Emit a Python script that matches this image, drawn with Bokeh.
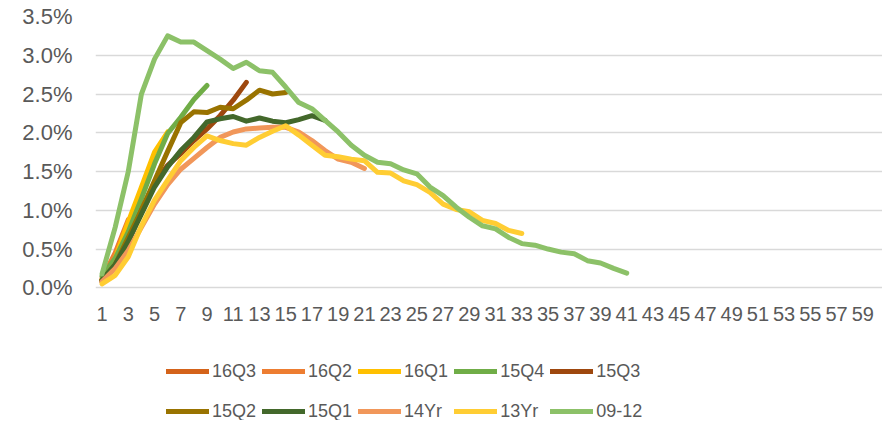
from bokeh.plotting import figure
from bokeh.models import Range1d, FixedTicker, PrintfTickFormatter, Legend, LegendItem
from bokeh.embed import file_html
from bokeh.resources import INLINE

# ---- data (values in %) ----
categories = list(range(1, 61))
x_tick_values = categories[::2]
x_tick_labels = [str(c) for c in x_tick_values]
y_ticks = [0.0, 0.5, 1.0, 1.5, 2.0, 2.5, 3.0, 3.5]

series_names = ["16Q3", "16Q2", "16Q1", "15Q4", "15Q3", "15Q2", "15Q1", "14Yr", "13Yr", "09-12"]
series_colors = ["#D4631A", "#ED7D31", "#FFC000", "#70AD47", "#9E480E",
                 "#997300", "#43682B", "#F1975A", "#FFCD33", "#8CC168"]

s16Q3 = [0.10, 0.35]
s16Q2 = [0.12, 0.45, 0.88]
s16Q1 = [0.10, 0.38, 0.85, 1.30, 1.75, 2.01]
s15Q4 = [0.15, 0.38, 0.72, 1.15, 1.60, 1.99, 2.20, 2.43, 2.61]
s15Q3 = [0.08, 0.28, 0.60, 1.00, 1.35, 1.58, 1.73, 1.90, 2.05, 2.22, 2.42, 2.65]
s15Q2 = [0.10, 0.30, 0.65, 1.00, 1.38, 1.76, 2.13, 2.27, 2.26, 2.33, 2.31, 2.42, 2.55, 2.50, 2.52]
s15Q1 = [0.10, 0.30, 0.60, 0.95, 1.30, 1.56, 1.77, 1.94, 2.14, 2.18, 2.21, 2.15, 2.19, 2.15, 2.13, 2.17, 2.22, 2.16]
s14Yr = [0.08, 0.25, 0.48, 0.78, 1.08, 1.33, 1.53, 1.67, 1.81, 1.94, 2.01, 2.05, 2.06, 2.07, 2.07,
         2.01, 1.90, 1.77, 1.66, 1.62, 1.54]
s13Yr = [0.05, 0.16, 0.40, 0.80, 1.13, 1.39, 1.64, 1.81, 1.96, 1.90, 1.86, 1.84, 1.94, 2.02, 2.09,
         1.97, 1.84, 1.71, 1.69, 1.66, 1.64, 1.49, 1.48, 1.38, 1.33, 1.23, 1.08, 1.01, 0.98, 0.87,
         0.83, 0.74, 0.70]
s0912 = [0.18, 0.78, 1.50, 2.50, 2.95, 3.25, 3.17, 3.17, 3.06, 2.95, 2.83, 2.91, 2.80, 2.78, 2.59,
         2.39, 2.31, 2.16, 2.01, 1.84, 1.71, 1.62, 1.60, 1.52, 1.47, 1.30, 1.19, 1.04, 0.91, 0.80,
         0.76, 0.65, 0.57, 0.55, 0.50, 0.46, 0.44, 0.35, 0.32, 0.25, 0.19]

series_values = [s16Q3, s16Q2, s16Q1, s15Q4, s15Q3, s15Q2, s15Q1, s14Yr, s13Yr, s0912]

FONT = "Liberation Sans"
TXT = "#595959"

# frame: top at 3.5%, 0% about 271px lower, frame continues down to hold the legend
p = figure(width=882, height=420, output_backend="svg", toolbar_location=None,
           x_range=Range1d(0.5, 60.5), y_range=Range1d(-1.712, 3.5),
           min_border_left=95, min_border_right=0, min_border_top=16, min_border_bottom=0)
p.outline_line_color = None
p.background_fill_color = "white"
p.border_fill_color = "white"

p.xgrid.grid_line_color = None
p.ygrid.grid_line_color = "#D9D9D9"
p.ygrid.grid_line_width = 1.5

p.xaxis.ticker = FixedTicker(ticks=x_tick_values)
p.xaxis.major_label_overrides = {v: l for v, l in zip(x_tick_values, x_tick_labels)}
p.xaxis.fixed_location = 0
p.yaxis.ticker = FixedTicker(ticks=y_ticks)
p.yaxis.formatter = PrintfTickFormatter(format="%.1f%%")

for ax in (p.xaxis[0], p.yaxis[0]):
    ax.axis_line_color = None
    ax.major_tick_line_color = None
    ax.minor_tick_line_color = None
    ax.major_label_text_font = FONT
    ax.major_label_text_color = TXT
p.xaxis.major_label_text_font_size = "20px"
p.yaxis.major_label_text_font_size = "22px"
p.xaxis.major_label_standoff = 13
p.yaxis.major_label_standoff = 17

items = []
for name, col, vals in zip(series_names, series_colors, series_values):
    xs = categories[:len(vals)]
    r = p.line(xs, vals, line_color=col, line_width=5, line_join="round", line_cap="round")
    items.append(LegendItem(label=name, renderers=[r]))

legend = Legend(items=items, location=(71, -8), orientation="horizontal", ncols=5,
                glyph_width=43, glyph_height=34, label_height=34, label_width=44,
                label_standoff=3, spacing=6, padding=0, margin=0,
                label_text_font=FONT, label_text_font_size="18px", label_text_color=TXT,
                border_line_color=None, background_fill_alpha=0)
p.add_layout(legend, "center")

open("out.html", "w").write(file_html(p, INLINE))
